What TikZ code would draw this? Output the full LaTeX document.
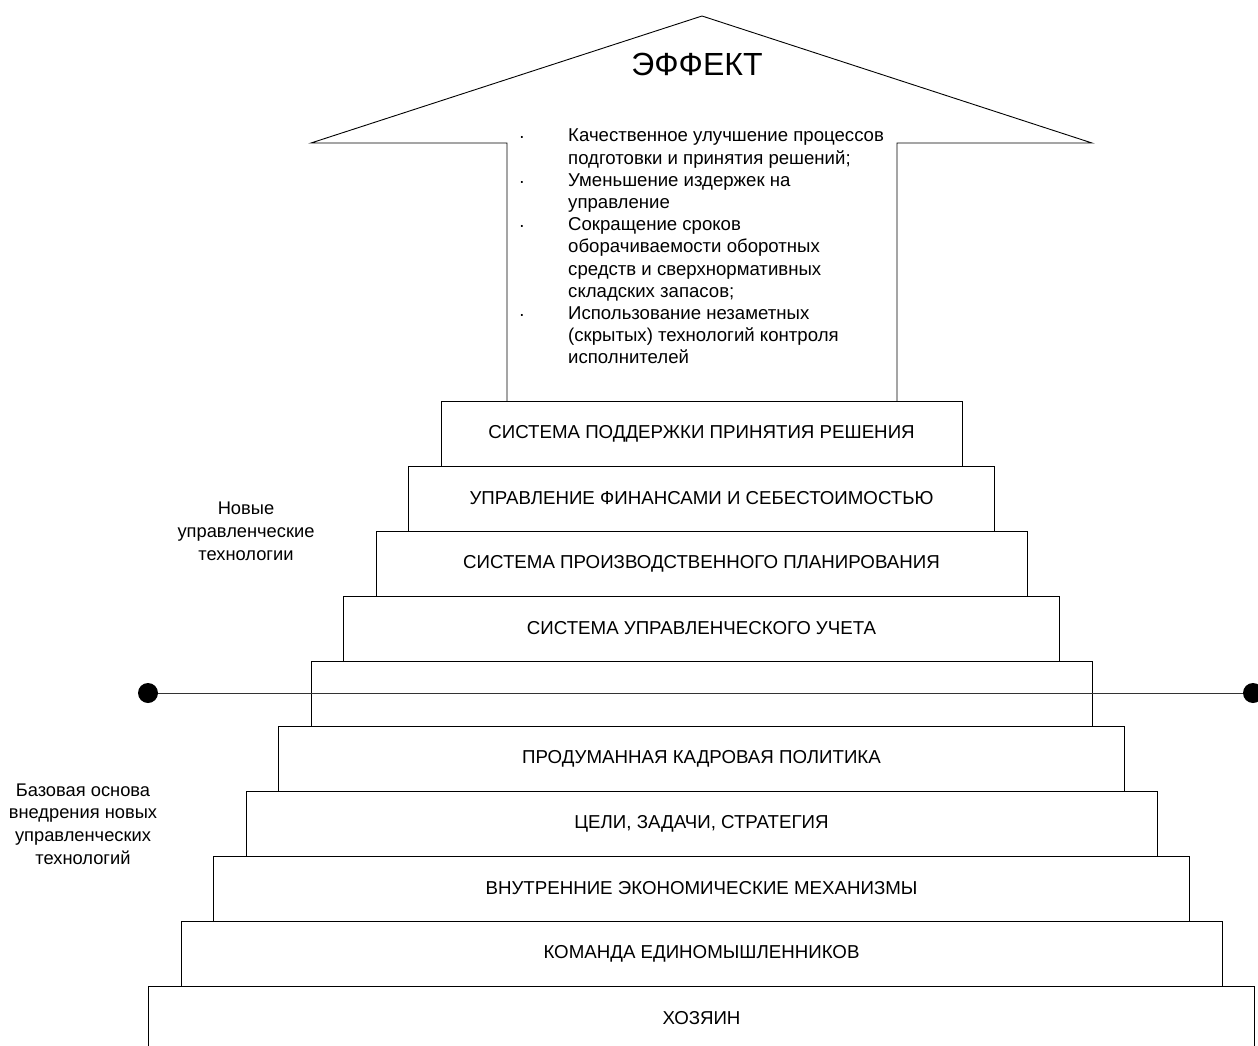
\documentclass[tikz,border=0pt]{standalone}
\usepackage{fontspec}
\setmainfont{Liberation Sans}
\begin{document}
\begin{tikzpicture}[x=1pt,y=-1pt,
  outline/.style={draw=black,line width=0.9pt},
  stepbox/.style={outline,rectangle,inner sep=0pt,minimum height=65pt,
    font=\fontsize{18.7}{22}\selectfont},
  sidelabel/.style={align=center,inner sep=0pt,font=\fontsize{18.3}{22.8}\selectfont},
  bulletmark/.style={inner sep=0pt,anchor=base,font=\fontsize{18.5}{22}\selectfont},
  dotmark/.style={circle,fill=black,inner sep=0pt,minimum size=20pt}]
\path[use as bounding box,clip] (0,0) rectangle (1258,1046);

% the arrow of the effect
\coordinate (abl) at (507,401);
\coordinate (ashl) at (507,143);
\coordinate (awl) at (311,143);
\coordinate (atop) at (702,16);
\coordinate (awr) at (1092,143);
\coordinate (ashr) at (897,143);
\coordinate (abr) at (897,401);
\draw[outline] (abl) -- (ashl) -- (awl) -- (atop) -- (awr) -- (ashr) -- (abr);

\node[inner sep=0pt,font=\fontsize{32}{38}\selectfont] (effect) at (697,64) {ЭФФЕКТ};

\node[inner sep=0pt,anchor=north west,align=left,font=\fontsize{18.6}{22.2}\selectfont] (effects) at (568,129)
{Качественное улучшение процессов\\
подготовки и принятия решений;\\
Уменьшение издержек на\\
управление\\
Сокращение сроков\\
оборачиваемости оборотных\\
средств и сверхнормативных\\
складских запасов;\\
Использование незаметных\\
(скрытых) технологий контроля\\
исполнителей};
\node[bulletmark] (b1) at (522,142.6) {·};
\node[bulletmark] (b2) at (522,187.0) {·};
\node[bulletmark] (b3) at (522,231.4) {·};
\node[bulletmark] (b4) at (522,320.2) {·};

% the staircase
\node[stepbox,minimum width=521pt] (s1) at (701.5,433.5) {СИСТЕМА ПОДДЕРЖКИ ПРИНЯТИЯ РЕШЕНИЯ};
\node[stepbox,minimum width=586pt] (s2) at (701.5,498.5) {УПРАВЛЕНИЕ ФИНАНСАМИ И СЕБЕСТОИМОСТЬЮ};
\node[stepbox,minimum width=651pt] (s3) at (701.5,563.5) {СИСТЕМА ПРОИЗВОДСТВЕННОГО ПЛАНИРОВАНИЯ};
\node[stepbox,minimum width=716pt] (s4) at (701.5,628.5) {СИСТЕМА УПРАВЛЕНЧЕСКОГО УЧЕТА};
\node[stepbox,minimum width=781pt] (s5) at (701.5,693.5) {};
\node[stepbox,minimum width=846pt] (s6) at (701.5,758.5) {ПРОДУМАННАЯ КАДРОВАЯ ПОЛИТИКА};
\node[stepbox,minimum width=911pt] (s7) at (701.5,823.5) {ЦЕЛИ, ЗАДАЧИ, СТРАТЕГИЯ};
\node[stepbox,minimum width=976pt] (s8) at (701.5,888.5) {ВНУТРЕННИЕ ЭКОНОМИЧЕСКИЕ МЕХАНИЗМЫ};
\node[stepbox,minimum width=1041pt] (s9) at (701.5,953.5) {КОМАНДА ЕДИНОМЫШЛЕННИКОВ};
\node[stepbox,minimum width=1106pt] (s10) at (701.5,1018.5) {ХОЗЯИН};

% dividing line between the two groups
\node[dotmark] (dl) at (148,693) {};
\node[dotmark] (dr) at (1253,693) {};
\draw[line width=1pt,black!80] (dl) -- (dr);

% group captions
\node[sidelabel] (upper) at (246,531) {Новые\\управленческие\\технологии};
\node[sidelabel] (lower) at (83,824) {Базовая основа\\внедрения новых\\управленческих\\технологий};
\end{tikzpicture}
\end{document}
